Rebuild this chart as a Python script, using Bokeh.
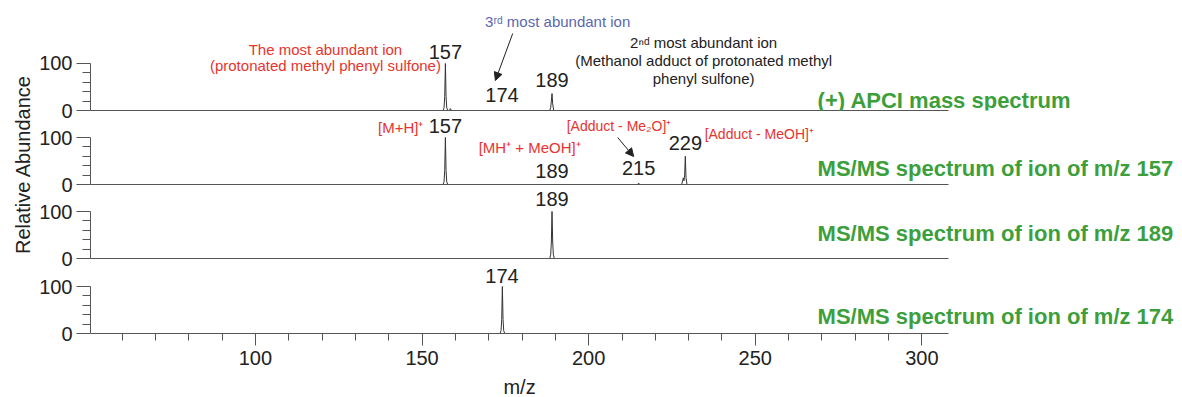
from bokeh.plotting import figure
from bokeh.models import Range1d, FixedTicker, Label, Arrow, NormalHead
from bokeh.layouts import row, column
from bokeh.embed import file_html
from bokeh.resources import INLINE

FONT = "Liberation Sans"
RED = "#e8332e"
GREEN = "#3c9f3c"
BLUE = "#5b68ad"
INK = "#222222"
AXIS = "#555555"

# ---------------- data (profile points) ----------------
x_ticks = [100, 150, 200, 250, 300]
x_minor = [60, 70, 80, 90, 110, 120, 130, 140, 160, 170, 180, 190, 210, 220, 230, 240,
           260, 270, 280, 290, 300]
y_ticks = [0, 100]
y_minor = [20, 40, 60, 80]

# (+) APCI mass spectrum
s1_mz = [156.3, 156.6, 156.8, 157.0, 157.2, 157.4, 157.7, 158.2, 158.5, 158.8,
         188.3, 188.6, 188.8, 189.0, 189.2, 189.5]
s1_int = [0, 6, 30, 100, 30, 6, 0, 0, 4, 0,
          0, 6, 20, 36, 14, 0]
# MS/MS of m/z 157
s2_mz = [156.3, 156.6, 156.8, 157.0, 157.2, 157.4, 157.7,
         214.7, 215.0, 215.3,
         227.9, 228.2, 228.4, 228.6, 228.8, 229.0, 229.2, 229.5]
s2_int = [0, 6, 30, 100, 30, 6, 0,
          0, 3, 0,
          0, 8, 14, 8, 20, 60, 15, 0]
# MS/MS of m/z 189
s3_mz = [188.3, 188.6, 188.8, 189.0, 189.2, 189.4, 189.7]
s3_int = [0, 8, 35, 100, 35, 8, 0]
# MS/MS of m/z 174
s4_mz = [173.4, 173.7, 173.9, 174.1, 174.3, 174.5, 174.8]
s4_int = [0, 6, 30, 100, 30, 6, 0]

panel_titles = ["(+) APCI mass spectrum",
                "MS/MS spectrum of ion of m/z 157",
                "MS/MS spectrum of ion of m/z 189",
                "MS/MS spectrum of ion of m/z 174"]
panel_title_y = [22, 34, 53, 36]

# peak labels: (panel, m/z, y of text centre, text)
peak_labels = [
    (0, 157, 125.5, "157"),
    (0, 174, 33, "174"),
    (0, 189, 65, "189"),
    (1, 157, 125.5, "157"),
    (1, 189, 28.7, "189"),
    (1, 215, 35, "215"),
    (1, 229, 88.3, "229"),
    (2, 189, 127, "189"),
    (3, 174, 122, "174"),
]

X_START, X_END = 50.5, 308          # extent of the m/z axis
X_VIEW_END = 378.2                  # frame continues to the right for the panel titles


def make_panel(height, y_view_top, bottom, last, overlap=0):
    kw = {}
    if overlap:
        kw["styles"] = {"margin-top": f"-{overlap}px"}
    p = figure(width=1146, height=height,
               x_range=Range1d(X_START, X_VIEW_END), y_range=Range1d(0, y_view_top),
               output_backend="svg", toolbar_location=None,
               min_border_left=54, min_border_right=0,
               min_border_top=0, min_border_bottom=bottom, **kw)
    p.grid.visible = False
    p.outline_line_color = None
    p.background_fill_color = None
    p.border_fill_color = None

    ya = p.yaxis[0]
    ya.bounds = (0, 100)
    ya.ticker = FixedTicker(ticks=y_ticks, minor_ticks=y_minor)
    ya.axis_line_color = AXIS
    ya.major_tick_line_color = AXIS
    ya.minor_tick_line_color = AXIS
    ya.major_tick_in = 0
    ya.major_tick_out = 14
    ya.minor_tick_in = 0
    ya.minor_tick_out = 8
    ya.major_label_standoff = 4
    ya.major_label_text_font = FONT
    ya.major_label_text_font_size = "20px"
    ya.major_label_text_color = INK

    xa = p.xaxis[0]
    xa.bounds = (X_START, X_END)
    xa.axis_line_color = AXIS
    if last:
        xa.ticker = FixedTicker(ticks=x_ticks, minor_ticks=x_minor)
        xa.major_tick_line_color = AXIS
        xa.minor_tick_line_color = AXIS
        xa.major_tick_in = 0
        xa.major_tick_out = 12
        xa.minor_tick_in = 0
        xa.minor_tick_out = 7
        xa.major_label_standoff = 5
        xa.major_label_text_font = FONT
        xa.major_label_text_font_size = "20px"
        xa.major_label_text_color = INK
    else:
        xa.ticker = FixedTicker(ticks=[])
        xa.major_tick_line_color = None
        xa.minor_tick_line_color = None
        xa.major_tick_in = 0
        xa.major_tick_out = 0
        xa.minor_tick_in = 0
        xa.minor_tick_out = 0
        xa.major_label_standoff = 0
        xa.major_label_text_font_size = "0px"
    return p


p1 = make_panel(122, 234.0, 12, False)
p2 = make_panel(83, 151.1, 12, False, overlap=9)
p3 = make_panel(83, 151.1, 12, False, overlap=9)
p4 = make_panel(112, 153.2, 40, True, overlap=9)
panels = [p1, p2, p3, p4]

for p, mz, inten in zip(panels, [s1_mz, s2_mz, s3_mz, s4_mz], [s1_int, s2_int, s3_int, s4_int]):
    p.line(mz, inten, line_color="#333333", line_width=1)

for p, t, y in zip(panels, panel_titles, panel_title_y):
    p.add_layout(Label(x=268.7, y=y, text=t, text_font=FONT, text_font_size="22px",
                       text_font_style="bold", text_color=GREEN,
                       text_align="left", text_baseline="middle"))

for idx, mz, y, t in peak_labels:
    panels[idx].add_layout(Label(x=mz, y=y, text=t, text_font=FONT, text_font_size="20px",
                                 text_color=INK, text_align="center", text_baseline="middle"))


def note(p, x, y, t, color, size="15px", align="center"):
    p.add_layout(Label(x=x, y=y, text=t, text_font=FONT, text_font_size=size,
                       text_color=color, text_align=align, text_baseline="middle"))


# panel 1 annotations
note(p1, 121.0, 130, "The most abundant ion", RED)
note(p1, 121.0, 95, "(protonated methyl phenyl sulfone)", RED)
note(p1, 190.7, 189.4, "3\u02b3\u1d48 most abundant ion", BLUE)
note(p1, 234.5, 145.3, "2\u207f\u1d48 most abundant ion", INK)
note(p1, 234.5, 107, "(Methanol adduct of protonated methyl", INK)
note(p1, 234.5, 68.7, "phenyl sulfone)", INK)
p1.add_layout(Arrow(end=NormalHead(size=8, fill_color=INK, line_color=INK),
                    x_start=177.2, y_start=163.8, x_end=172.0, y_end=63.8,
                    line_color=INK, line_width=1))

# panel 2 annotations
note(p2, 150.4, 122.3, "[M+H]\u207a", RED, align="right")
note(p2, 182.3, 77.7, "[MH\u207a + MeOH]\u207a", RED)
note(p2, 209.1, 124.5, "[Adduct - Me\u2082O]\u207a", RED, size="14px")
note(p2, 234.8, 108.5, "[Adduct - MeOH]\u207a", RED, size="14px", align="left")
p2.add_layout(Arrow(end=NormalHead(size=8, fill_color=INK, line_color=INK),
                    x_start=208.7, y_start=100, x_end=213.5, y_end=59.6,
                    line_color=INK, line_width=1))

# x-axis title strip (transparent, overlapping the bottom border of the last panel)
bx = figure(width=1146, height=40, x_range=Range1d(X_START, X_VIEW_END), y_range=Range1d(0, 40),
            output_backend="svg", toolbar_location=None,
            min_border_left=54, min_border_right=0, min_border_top=0, min_border_bottom=0,
            styles={"margin-top": "-16px"})
bx.axis.visible = False
bx.grid.visible = False
bx.outline_line_color = None
bx.background_fill_color = None
bx.border_fill_color = None
bx.add_layout(Label(x=(X_START + X_END) / 2, y=11, text="m/z", text_font=FONT,
                    text_font_size="20px", text_color=INK,
                    text_align="center", text_baseline="middle"))

# y-axis title spanning all panels
tf = figure(width=36, height=397, x_range=Range1d(0, 36), y_range=Range1d(0, 397),
            output_backend="svg", toolbar_location=None,
            min_border_left=0, min_border_right=0, min_border_top=0, min_border_bottom=0)
tf.axis.visible = False
tf.grid.visible = False
tf.outline_line_color = None
tf.background_fill_color = None
tf.border_fill_color = None
tf.add_layout(Label(x=22, y=233, text="Relative Abundance", angle=90, angle_units="deg",
                    text_font=FONT, text_font_size="20px", text_color=INK,
                    text_align="center", text_baseline="middle"))

layout = row(tf, column(p1, p2, p3, p4, bx, spacing=0), spacing=0)

open("out.html", "w").write(file_html(layout, INLINE))
